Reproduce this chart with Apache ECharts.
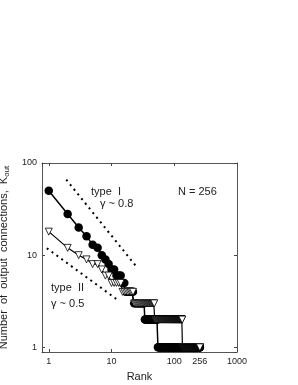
<!DOCTYPE html>
<html><head><meta charset="utf-8">
<script src="https://cdn.jsdelivr.net/npm/echarts@6/dist/echarts.min.js"></script>
<style>html,body{margin:0;padding:0;background:#fff}#c{width:298px;height:385px}</style>
</head><body><div id="c"></div>
<script>
// Degree histograms (K_out level and number of nodes at that level), sorted by rank
var typeILevels  = [50, 28, 20, 16, 13, 12, 10, 9, 8, 7, 6, 5, 4, 3, 2, 1];
var typeICounts  = [1, 1, 1, 1, 1, 1, 1, 1, 1, 2, 3, 2, 6, 11, 21, 202];
var typeIILevels = [18, 12, 10, 9, 8, 7, 6, 5, 4, 3, 2, 1];
var typeIICounts = [1, 1, 1, 1, 2, 1, 2, 5, 8, 26, 86, 122];
// Power-law guide lines (rank, K_out) endpoints
var guideI  = [[1.9, 66], [25, 7.5]];
var guideII = [[0.93, 11.9], [12.5, 3.27]];
var xTickLabels = [1, 10, 100, 256, 1000];
var yTickLabels = [1, 10, 100];

function rankSeq(levels, counts) {
  var out = [], r = 1;
  for (var i = 0; i < levels.length; i++) {
    for (var j = 0; j < counts[i]; j++) { out.push([r, levels[i]]); r++; }
  }
  return out;
}

var FONT = 'Liberation Sans';
var chart = echarts.init(document.getElementById('c'), null, {renderer: 'canvas'});
var tickStyle = {show: true, inside: true, length: 3, lineStyle: {color: '#444'}};
var lineCol = '#555';
var plainFmt = function (v) { return String(Math.round(v)); };
chart.setOption({
  animation: false,
  grid: {left: 42, top: 163, right: 61, bottom: 33, show: false, containLabel: false, outerBoundsMode: 'none'},
  xAxis: [{
    type: 'log', logBase: 10, min: 0.78, max: 1000,
    axisLine: {show: true, lineStyle: {color: lineCol}},
    axisTick: tickStyle,
    minorTick: {show: false}, splitLine: {show: false},
    axisLabel: {customValues: xTickLabels, formatter: plainFmt, fontFamily: FONT, fontSize: 9, color: '#222', margin: 5},
    name: 'Rank', nameLocation: 'middle', nameGap: 19,
    nameTextStyle: {fontFamily: FONT, fontSize: 11, color: '#222'}
  }, {
    type: 'log', logBase: 10, min: 0.78, max: 1000, position: 'top',
    axisLine: {show: true, lineStyle: {color: lineCol}},
    axisTick: tickStyle, axisLabel: {show: false}, splitLine: {show: false}
  }],
  yAxis: [{
    type: 'log', logBase: 10, min: 0.89, max: 100,
    axisLine: {show: true, lineStyle: {color: lineCol}},
    axisTick: tickStyle, splitLine: {show: false},
    axisLabel: {customValues: yTickLabels, formatter: plainFmt, fontFamily: FONT, fontSize: 9, color: '#222', margin: 5},
    name: '{a|Number  of  output  connections,  K}{s|out}',
    nameLocation: 'middle', nameGap: 29, nameRotate: 90,
    nameTextStyle: {fontFamily: FONT, fontSize: 11, color: '#222',
      rich: {a: {fontFamily: FONT, fontSize: 11, color: '#222'},
             s: {fontFamily: FONT, fontSize: 8, color: '#222', verticalAlign: 'bottom', padding: [6, 0, 0, 0]}}}
  }, {
    type: 'log', logBase: 10, min: 0.89, max: 100, position: 'right',
    axisLine: {show: true, lineStyle: {color: lineCol}},
    axisTick: tickStyle, axisLabel: {show: false}, splitLine: {show: false}
  }],
  series: [
    {type: 'line', data: guideI, symbol: 'none', silent: true,
     lineStyle: {color: '#000', width: 2, type: [2, 4]}},
    {type: 'line', data: guideII, symbol: 'none', silent: true,
     lineStyle: {color: '#000', width: 2, type: [2, 4]}},
    {type: 'line', data: rankSeq(typeILevels, typeICounts),
     symbol: 'circle', symbolSize: 8.5,
     itemStyle: {color: '#000'}, lineStyle: {color: '#000', width: 1.5}},
    {type: 'line', data: rankSeq(typeIILevels, typeIICounts),
     symbol: 'triangle', symbolSize: 7, symbolRotate: 180,
     itemStyle: {color: '#fff', borderColor: '#000', borderWidth: 0.8},
     lineStyle: {color: '#000', width: 1.2}}
  ],
  graphic: [
    {type: 'text', left: 91, top: 186, style: {text: 'type  I', font: '11px "Liberation Sans"', fill: '#222'}},
    {type: 'text', left: 100, top: 198, style: {text: 'γ ~ 0.8', font: '11px "Liberation Sans"', fill: '#222'}},
    {type: 'text', left: 178, top: 186, style: {text: 'N = 256', font: '11px "Liberation Sans"', fill: '#222'}},
    {type: 'text', left: 51, top: 282, style: {text: 'type  II', font: '11px "Liberation Sans"', fill: '#222'}},
    {type: 'text', left: 51, top: 298, style: {text: 'γ ~ 0.5', font: '11px "Liberation Sans"', fill: '#222'}}
  ]
});
</script>
</body></html>
